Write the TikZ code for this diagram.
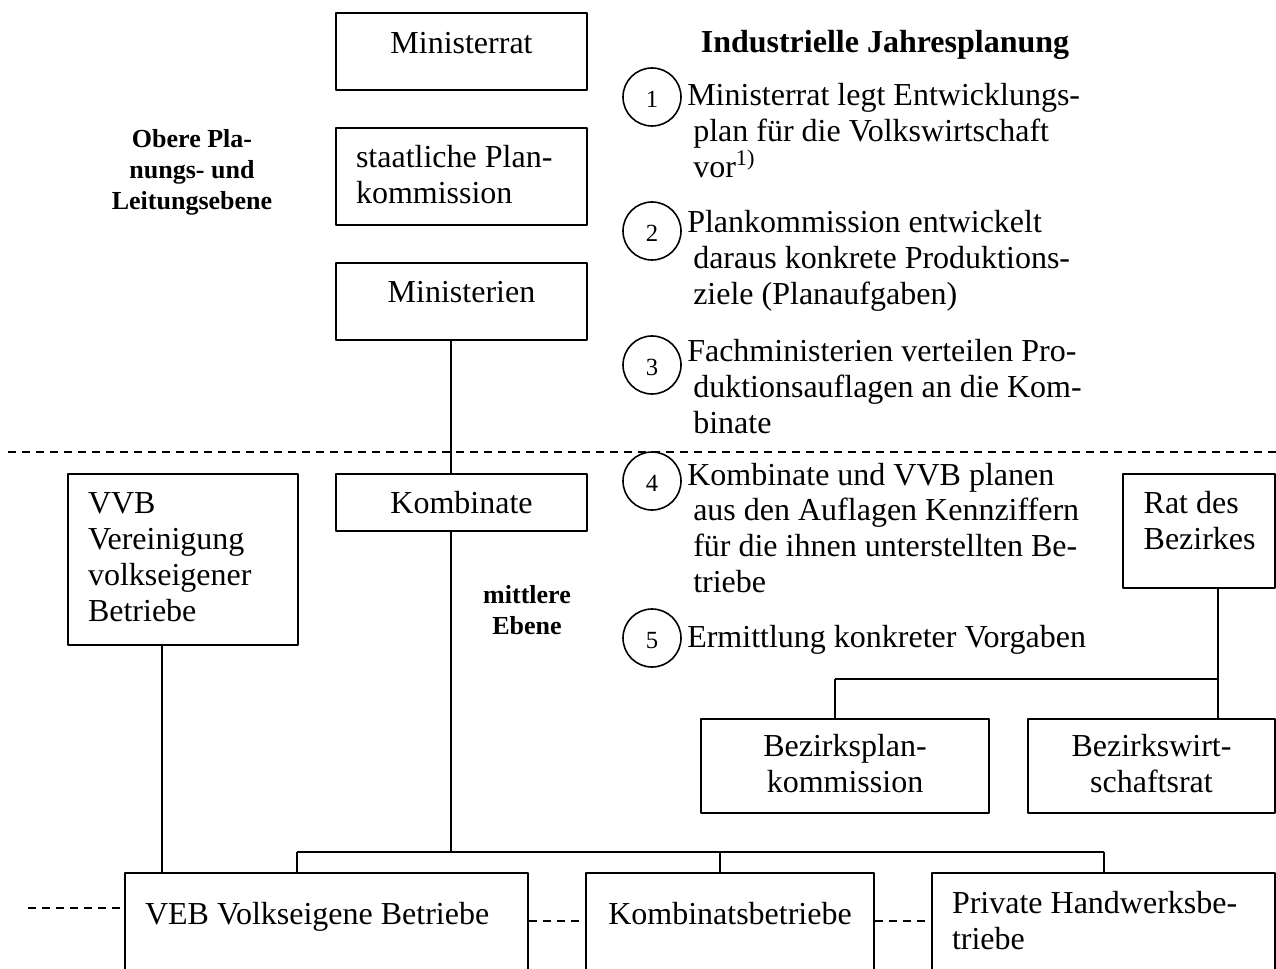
\documentclass[tikz,border=0pt]{standalone}
\usepackage{fontspec}
\setmainfont{Liberation Serif}
\hyphenpenalty=10000
\begin{document}
\begin{tikzpicture}[x=0.75pt, y=-0.75pt, line join=round,
    box/.style={draw, line width=1.5pt, anchor=north west, inner xsep=15pt, inner ysep=0pt,
      font=\fontsize{24}{27}\selectfont},
    link/.style={line width=1.2pt},
    level/.style={line width=1pt, dash pattern=on 6pt off 4.5pt},
    num/.style={draw, circle, line width=1.2pt, minimum size=43.5pt, inner sep=0pt,
      text height=16pt, text depth=0pt, font=\fontsize{18.5}{18.5}\selectfont},
    stage/.style={anchor=base west, text width=420pt, align=flush left, inner sep=0pt,
      font=\fontsize{24}{26.8}\selectfont},
    tag/.style={anchor=base, text width=140pt, align=flush center, inner sep=0pt,
      font=\fontsize{19.5}{23.25}\selectfont\bfseries},
    head/.style={anchor=base, inner sep=0pt, font=\fontsize{24}{27}\selectfont\bfseries}]
  \useasboundingbox (0,0) rectangle (1276,969);
  \clip (0,0) rectangle (1276,969);

  % upper level
  \node[box, minimum width=188.25pt, text height=30.75pt, text depth=27pt] (ministerrat) at (335,12) {Ministerrat};
  \node[box, text width=158.25pt, align=flush left, text height=30pt, text depth=42.75pt] (plankomm) at (335,127)
    {staatliche Plan-\\kommission};
  \node[box, minimum width=188.25pt, text height=30pt, text depth=27.75pt] (ministerien) at (335,262) {Ministerien};
  \node[tag] (oben) at (192,148) {Obere Pla-\\nungs- und\\Leitungsebene};

  % middle level
  \node[box, minimum width=188.25pt, text height=29.25pt, text depth=13.5pt] (kombinate) at (335,473) {Kombinate};
  \node[box, text width=142.5pt, align=flush left, text height=29.25pt, text depth=99pt] (vvb) at (67,473)
    {VVB\\Vereinigung\\volkseigener\\Betriebe};
  \node[box, inner xsep=15.5pt, text width=83pt, align=flush left, text height=29.25pt, text depth=56.25pt]
    (rat) at (1122,473) {Rat des\\Bezirkes};
  \node[box, text width=186pt, align=flush center, text height=27.75pt, text depth=42.75pt] (bezplan) at (700,718)
    {Bezirksplan-\\kommission};
  \node[box, text width=155.25pt, align=flush center, text height=27.75pt, text depth=42.75pt] (bezwirt) at (1027,718)
    {Bezirkswirt-\\schaftsrat};
  \node[tag] (mitte) at (527,603) {mittlere\\Ebene};

  % lower level
  \node[box, text width=272.25pt, align=flush left, text height=38.25pt, text depth=65.25pt] (veb) at (124,872)
    {VEB Volkseigene Betriebe};
  \node[box, minimum width=216pt, text height=38.25pt, text depth=65.25pt] (kombbetr) at (585,872) {Kombinatsbetriebe};
  \node[box, text width=227.25pt, align=flush left, text height=30pt, text depth=73.5pt] (private) at (931,872)
    {Private Handwerksbe-\\triebe};

  % planning steps
  \node[head] (titel) at (885,53) {Industrielle Jahresplanung};
  \foreach \i/\y in {1/97, 2/231, 3/365, 4/481, 5/638}
    \node[num] (n\i) at (652,\y) {\i};
  \node[stage] (s1) at (687,106) {Ministerrat legt Entwicklungs-\\\hspace*{4.5pt}plan für die Volkswirtschaft\\
    \hspace*{4.5pt}vor\textsuperscript{1)}};
  \node[stage] (s2) at (687,233) {Plankommission entwickelt\\\hspace*{4.5pt}daraus konkrete Produktions-\\
    \hspace*{4.5pt}ziele (Planaufgaben)};
  \node[stage] (s3) at (687,362) {Fachministerien verteilen Pro-\\\hspace*{4.5pt}duktionsauflagen an die Kom-\\
    \hspace*{4.5pt}binate};
  \node[stage] (s4) at (687,485) {Kombinate und VVB planen\\\hspace*{4.5pt}aus den Auflagen Kennziffern\\
    \hspace*{4.5pt}für die ihnen unterstellten Be-\\\hspace*{4.5pt}triebe};
  \node[stage] (s5) at (687,647) {Ermittlung konkreter Vorgaben};

  % connectors
  \coordinate (bus) at (451,852);
  \coordinate (vebdrop) at (297,852);
  \coordinate (kbdrop) at (720,852);
  \coordinate (privdrop) at (1104,852);
  \coordinate (vvbdrop) at (162,852);
  \coordinate (ratbranch) at (1218,679);
  \coordinate (planbranch) at (835,679);
  \draw[link] (ministerien.south -| bus) -- (kombinate.north -| bus);
  \draw[link] (kombinate.south -| bus) -- (bus);
  \draw[link] (vebdrop) -- (privdrop);
  \draw[link] (vebdrop) -- (vebdrop |- veb.north);
  \draw[link] (kbdrop) -- (kbdrop |- kombbetr.north);
  \draw[link] (privdrop) -- (privdrop |- private.north);
  \draw[link] (vvb.south -| vvbdrop) -- (veb.north -| vvbdrop);
  \draw[link] (rat.south -| ratbranch) -- (bezwirt.north -| ratbranch);
  \draw[link] (planbranch) -- (ratbranch);
  \draw[link] (planbranch) -- (planbranch |- bezplan.north);

  % level borders
  \coordinate (levelL) at (8,452);
  \coordinate (levelR) at (1276,452);
  \coordinate (vebL) at (28,908);
  \draw[level] (levelL) -- (levelR);
  \draw[level] (vebL) -- (vebL -| veb.west);
  \draw[level] (veb.mid east) -- (kombbetr.mid west);
  \draw[level] (kombbetr.mid east) -- (kombbetr.mid east -| private.west);
\end{tikzpicture}
\end{document}
